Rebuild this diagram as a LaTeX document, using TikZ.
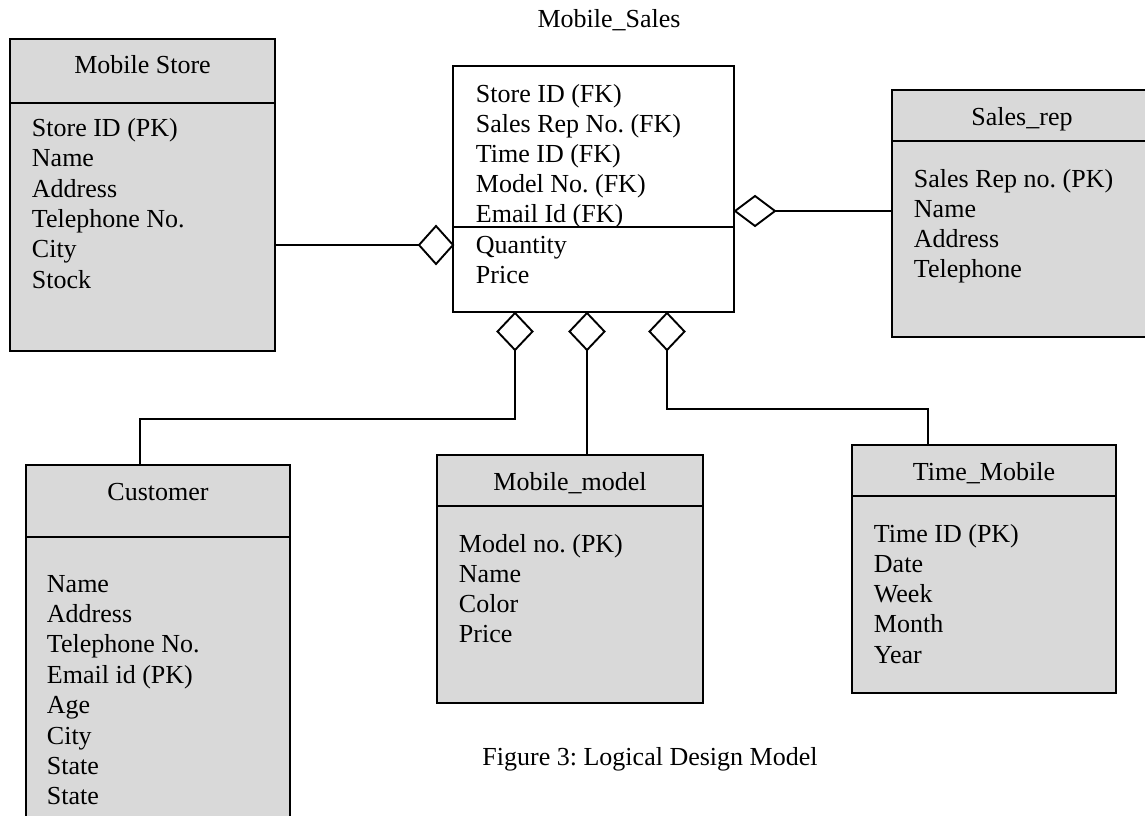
\documentclass[tikz,border=0pt]{standalone}
\usepackage{fontspec}
\setmainfont{Liberation Serif}
\usetikzlibrary{shapes.geometric}
\definecolor{boxgray}{RGB}{217,217,217}
\frenchspacing

\begin{document}
\begin{tikzpicture}[x=1pt,y=-1pt,line width=1.9pt,
   font={\fontsize{26}{30}\selectfont\frenchspacing},
   entity/.style={draw,fill=boxgray,anchor=north west,outer sep=0pt,inner sep=0pt},
   fact/.style={draw,fill=white,anchor=north west,outer sep=0pt,inner sep=0pt},
   head/.style={anchor=base,inner sep=0pt},
   attr/.style={anchor=base west,inner sep=0pt},
   link/.style={diamond,draw,fill=white,inner sep=0pt,outer sep=0pt,
                minimum width=35pt,minimum height=37pt}]
   \clip (0,0) rectangle (1145,815);
   % fact table
   \node[head] (sales-t) at (609,27) {Mobile\_Sales};
   \node[fact,minimum width=281,minimum height=246] (sales) at (453,66) {};
   \draw (sales.west |- 0,227) -- (sales.east |- 0,227);
   \foreach \a [count=\i from 0] in {Store ID (FK),Sales Rep No. (FK),Time ID (FK),
       Model No. (FK),Email Id (FK),Quantity,Price} {
    \node[attr] (sales-\i) at (475,102+30.2*\i) {\a};
   }
   % Mobile Store
   \node[entity,minimum width=265,minimum height=312] (store) at (10,39) {};
   \draw (store.west |- 0,103) -- (store.east |- 0,103);
   \node[head] (store-t) at (store.north |- 0,73) {Mobile Store};
   \foreach \a [count=\i from 0] in {Store ID (PK),Name,Address,Telephone No.,City,Stock} {
    \node[attr] (store-\i) at (31,136.5+30.3*\i) {\a};
   }
   % Sales_rep
   \node[entity,minimum width=262,minimum height=247] (rep) at (892,90) {};
   \draw (rep.west |- 0,141) -- (rep.east |- 0,141);
   \node[head] (rep-t) at (1022,125) {Sales\_rep};
   \foreach \a [count=\i from 0] in {Sales Rep no. (PK),Name,Address,Telephone} {
    \node[attr] (rep-\i) at (913,187+30*\i) {\a};
   }
   % Customer
   \node[entity,minimum width=264,minimum height=360] (cust) at (26,465) {};
   \draw (cust.west |- 0,537) -- (cust.east |- 0,537);
   \node[head] (cust-t) at (cust.north |- 0,500) {Customer};
   \foreach \a [count=\i from 0] in {Name,Address,Telephone No.,Email id (PK),
       Age,City,State,State} {
    \node[attr] (cust-\i) at (46,592+30.4*\i) {\a};
   }
   % Mobile_model
   \node[entity,minimum width=266,minimum height=248] (model) at (437,455) {};
   \draw (model.west |- 0,506) -- (model.east |- 0,506);
   \node[head] (model-t) at (model.north |- 0,490) {Mobile\_model};
   \foreach \a [count=\i from 0] in {Model no. (PK),Name,Color,Price} {
    \node[attr] (model-\i) at (458,552+30*\i) {\a};
   }
   % Time_Mobile
   \node[entity,minimum width=264,minimum height=248] (time) at (852,445) {};
   \draw (time.west |- 0,496) -- (time.east |- 0,496);
   \node[head] (time-t) at (time.north |- 0,480) {Time\_Mobile};
   \foreach \a [count=\i from 0] in {Time ID (PK),Date,Week,Month,Year} {
    \node[attr] (time-\i) at (873,542+30.25*\i) {\a};
   }
   % diamonds and links
   \node[link,minimum width=34pt,minimum height=38pt] (d-store) at (436,245) {};
   \node[link,minimum width=40pt,minimum height=30pt] (d-rep) at (755,211) {};
   \node[link] (d-cust)  at (515,331.5) {};
   \node[link] (d-model) at (587,331.5) {};
   \node[link] (d-time)  at (667,331.5) {};
   \draw (d-store.west) -- (d-store.west -| store.east);
   \draw (d-rep.east) -- (d-rep.east -| rep.west);
   \coordinate (j-cust) at (140,419);
   \draw (d-cust.south) |- (j-cust) -- (j-cust |- cust.north);
   \draw (d-model.south) -- (d-model.south |- model.north);
   \coordinate (j-time) at (928,409);
   \draw (d-time.south) |- (j-time) -- (j-time |- time.north);
   \node[head] (caption) at (650,765) {Figure 3: Logical Design Model};
\end{tikzpicture}
\end{document}
